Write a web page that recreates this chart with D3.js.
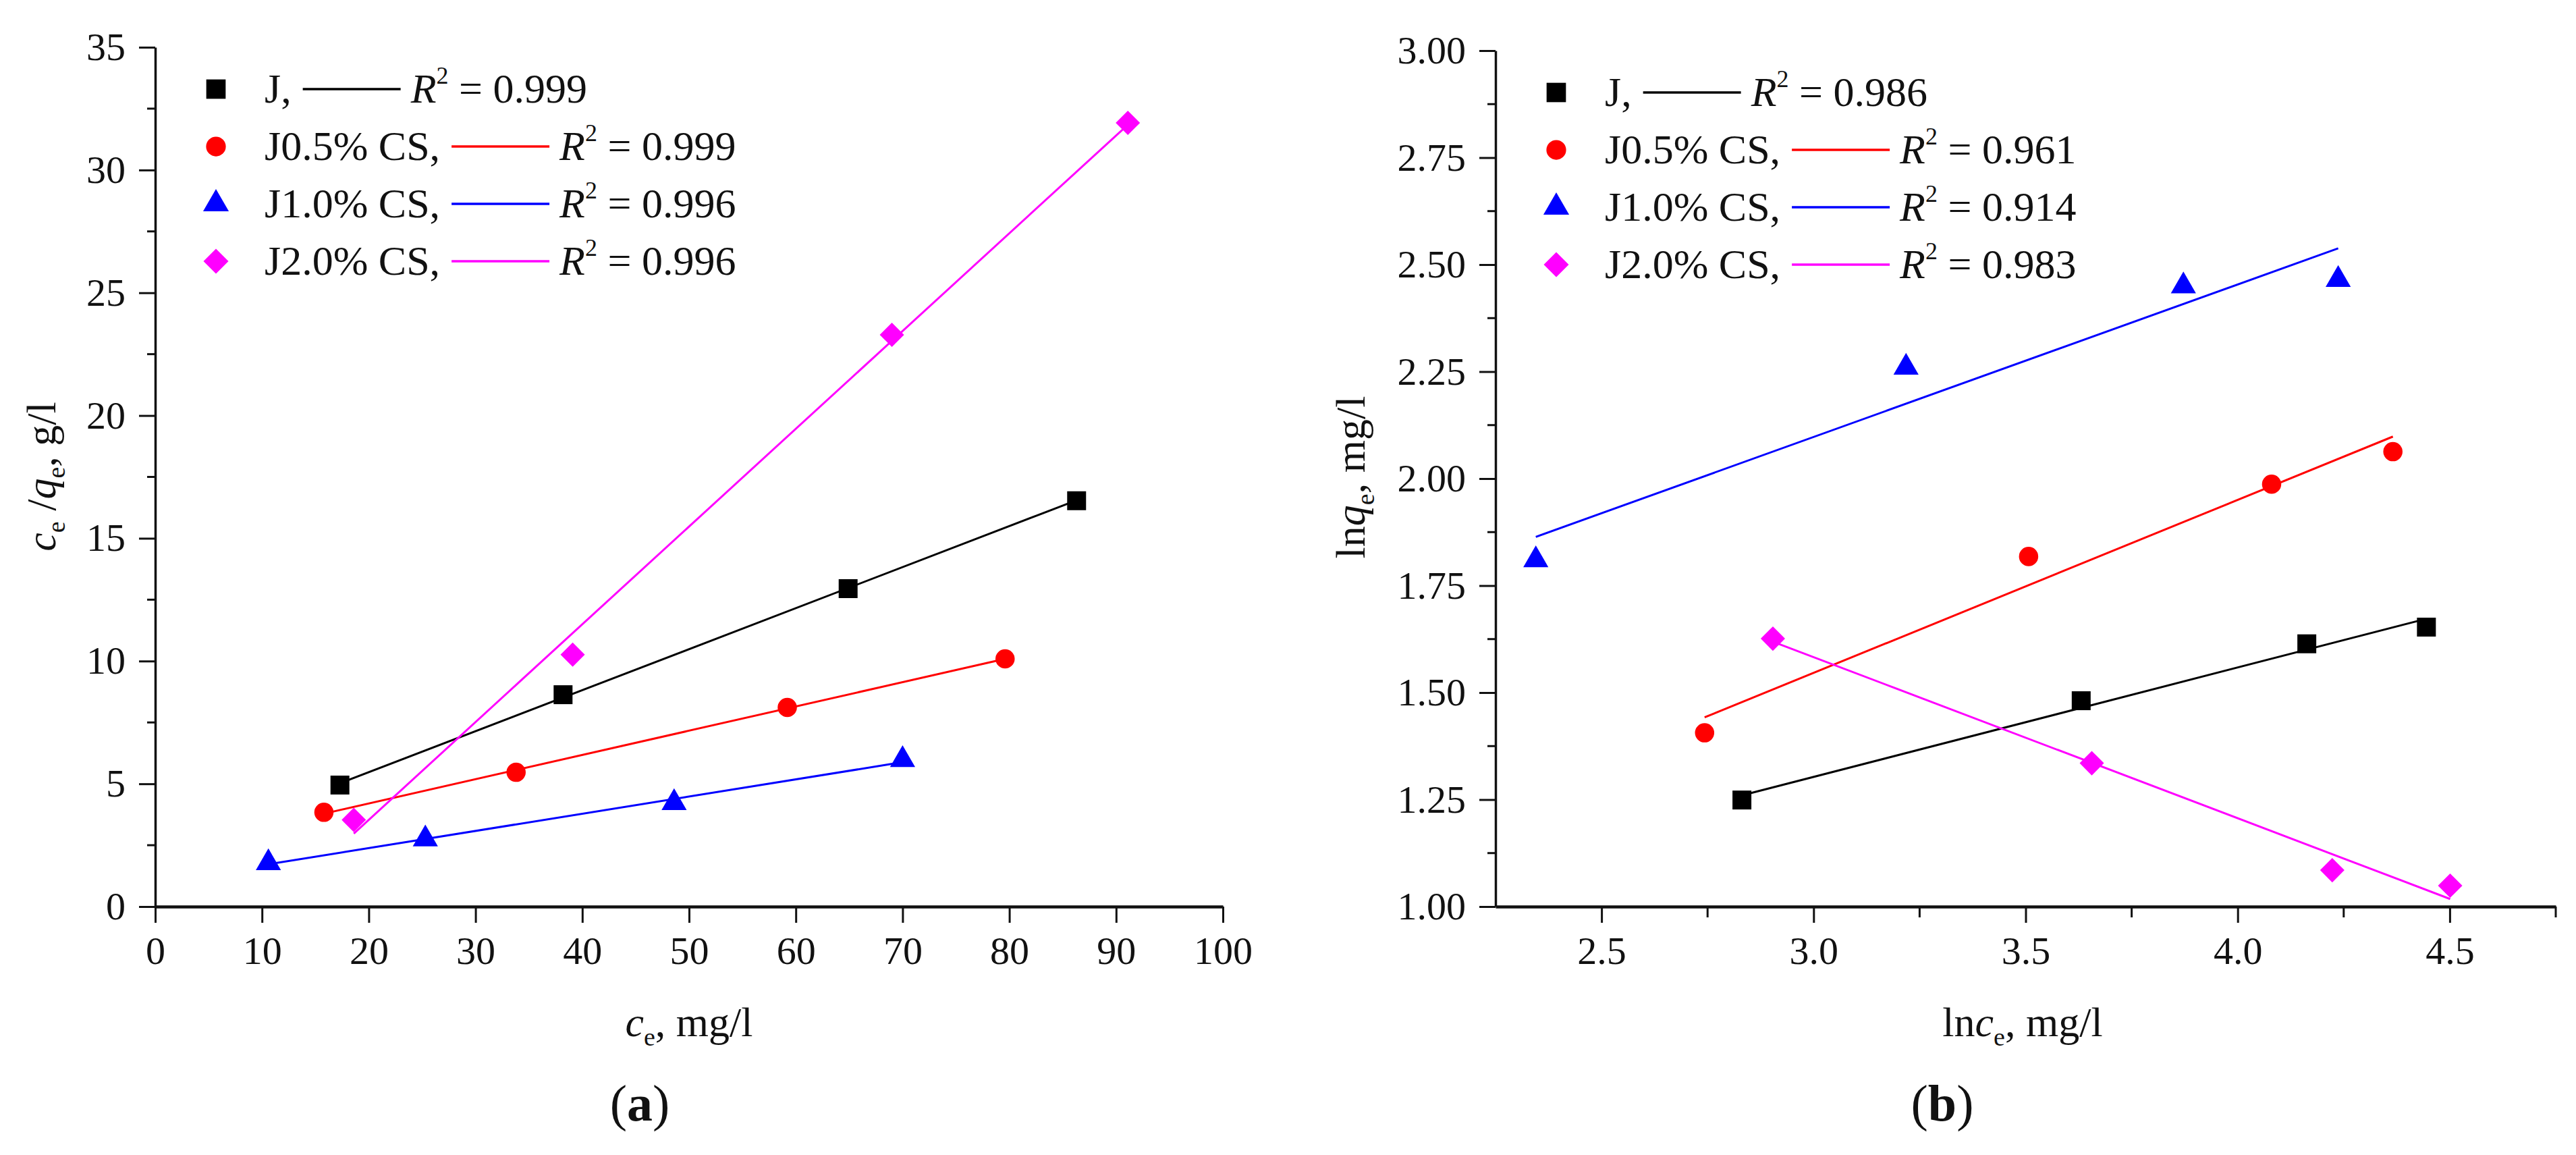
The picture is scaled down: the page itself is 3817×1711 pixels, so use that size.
<!DOCTYPE html>
<html>
<head>
<meta charset="utf-8">
<script src="https://cdn.jsdelivr.net/npm/d3@7"></script>
<style>
  html, body { margin: 0; padding: 0; background: #ffffff; }
  svg { display: block; }
  text { font-family: "Liberation Serif", "Times New Roman", serif; fill: #111; }
</style>
</head>
<body>
<svg id="chart" width="3817" height="1711"></svg>
<script>
// ---------------- DATA ----------------
const seriesNames = ["J,", "J0.5% CS,", "J1.0% CS,", "J2.0% CS,"];
const seriesColors = ["#000000", "#ff0000", "#0000ff", "#ff00ff"];

// Panel (a): ce (mg/l) vs ce/qe (g/l)
const ceA_J   = [17.3, 38.2, 64.9, 86.3];
const yA_J    = [4.95, 8.63, 12.95, 16.53];
const ceA_05  = [15.8, 33.8, 59.2, 79.6];
const yA_05   = [3.84, 5.47, 8.11, 10.09];
const ceA_10  = [10.6, 25.3, 48.6, 70.0];
const yA_10   = [1.78, 2.75, 4.23, 5.98];
const ceA_20  = [18.6, 39.1, 69.0, 91.1];
const yA_20   = [3.53, 10.26, 23.29, 31.92];
const r2A     = ["0.999", "0.999", "0.996", "0.996"];

// Panel (b): ln ce vs ln qe
const lnceB_J  = [2.831, 3.631, 4.163, 4.445];
const lnqB_J   = [1.249, 1.481, 1.614, 1.653];
const lnceB_05 = [2.743, 3.507, 4.080, 4.366];
const lnqB_05  = [1.406, 1.818, 1.987, 2.063];
const lnceB_10 = [2.345, 3.218, 3.872, 4.237];
const lnqB_10  = [1.810, 2.260, 2.450, 2.465];
const lnceB_20 = [2.904, 3.656, 4.223, 4.501];
const lnqB_20  = [1.626, 1.335, 1.085, 1.049];
const r2B      = ["0.986", "0.961", "0.914", "0.983"];

// Tick values
const xTicksA = [0, 10, 20, 30, 40, 50, 60, 70, 80, 90, 100];
const yTicksA = [0, 5, 10, 15, 20, 25, 30, 35];
const yMinorA = [2.5, 7.5, 12.5, 17.5, 22.5, 27.5, 32.5];
const xTicksB = [2.5, 3.0, 3.5, 4.0, 4.5];
const xMinorB = [2.25, 2.75, 3.25, 3.75, 4.25, 4.75];
const yTicksB = [1.00, 1.25, 1.50, 1.75, 2.00, 2.25, 2.50, 2.75, 3.00];
const yMinorB = [1.125, 1.375, 1.625, 1.875, 2.125, 2.375, 2.625, 2.875];

// ---------------- HELPERS ----------------
const svg = d3.select("#chart");
svg.append("rect").attr("width", 3817).attr("height", 1711).attr("fill", "#fff");

const squareSym = { draw(ctx, size) { const s = Math.sqrt(size) / 2; ctx.moveTo(-s, -s); ctx.lineTo(s, -s); ctx.lineTo(s, s); ctx.lineTo(-s, s); ctx.closePath(); } };
const diamondSym = { draw(ctx, size) { const s = Math.sqrt(size) / 2; ctx.moveTo(0, -s); ctx.lineTo(s, 0); ctx.lineTo(0, s); ctx.lineTo(-s, 0); ctx.closePath(); } };
const symbolTypes = [squareSym, d3.symbolCircle, d3.symbolTriangle, diamondSym];
const symbolSizes = [784, 640, 600, 1300];

function linfit(xs, ys) {
  const mx = d3.mean(xs), my = d3.mean(ys);
  let sxy = 0, sxx = 0;
  xs.forEach((x, i) => { sxy += (x - mx) * (ys[i] - my); sxx += (x - mx) * (x - mx); });
  const b = sxy / sxx, a = my - b * mx;
  return x => a + b * x;
}

function drawPanel(cfg) {
  const g = svg.append("g");
  const x = d3.scaleLinear().domain(cfg.xDomain).range(cfg.xRange);
  const y = d3.scaleLinear().domain(cfg.yDomain).range(cfg.yRange);
  const x0 = cfg.xRange[0], yb = cfg.yRange[0];

  // fit lines
  cfg.series.forEach((s, i) => {
    const f = linfit(s.x, s.y);
    const xmin = d3.min(s.x), xmax = d3.max(s.x);
    g.append("line")
      .attr("x1", x(xmin)).attr("y1", y(f(xmin)))
      .attr("x2", x(xmax)).attr("y2", y(f(xmax)))
      .attr("stroke", seriesColors[i]).attr("stroke-width", 3);
  });
  // markers
  cfg.series.forEach((s, i) => {
    g.selectAll(null).data(s.x.map((v, k) => [v, s.y[k]])).enter()
      .append("path")
      .attr("transform", d => `translate(${x(d[0])},${y(d[1])})`)
      .attr("d", d3.symbol().type(symbolTypes[i]).size(symbolSizes[i]))
      .attr("fill", seriesColors[i]);
  });

  // axes
  const xAxis = d3.axisBottom(x).tickValues(cfg.xTicks).tickFormat(cfg.xFmt)
    .tickSize(24).tickSizeOuter(0).tickPadding(20);
  const gx = g.append("g").attr("transform", `translate(0,${yb})`).call(xAxis);
  const yAxis = d3.axisLeft(y).tickValues(cfg.yTicks).tickFormat(cfg.yFmt)
    .tickSize(24).tickSizeOuter(0).tickPadding(20);
  const gy = g.append("g").attr("transform", `translate(${x0},0)`).call(yAxis);
  [gx, gy].forEach(a => {
    a.selectAll("text").attr("font-size", 58).attr("font-family", "Liberation Serif").attr("fill", "#111");
    a.selectAll("line").attr("stroke", "#111").attr("stroke-width", 3);
  });
  gx.select(".domain").attr("stroke", "#111").attr("stroke-width", 4.5);
  gy.select(".domain").attr("stroke", "#111").attr("stroke-width", 3.5);
  // minor ticks
  if (cfg.xMinor) {
    g.append("g").selectAll("line").data(cfg.xMinor).enter().append("line")
      .attr("x1", d => x(d)).attr("x2", d => x(d)).attr("y1", yb).attr("y2", yb + 16)
      .attr("stroke", "#111").attr("stroke-width", 3);
  }
  if (cfg.yMinor) {
    g.append("g").selectAll("line").data(cfg.yMinor).enter().append("line")
      .attr("x1", x0).attr("x2", x0 - 12).attr("y1", d => y(d)).attr("y2", d => y(d))
      .attr("stroke", "#111").attr("stroke-width", 3);
  }

  // legend
  const lg = g.append("g");
  const top = cfg.yRange[1];
  cfg.series.forEach((s, i) => {
    const cy = top + 62 + i * 85;
    const mx = x0 + 90;
    lg.append("path").attr("transform", `translate(${mx},${cy})`)
      .attr("d", d3.symbol().type(symbolTypes[i]).size(symbolSizes[i] * 1.05))
      .attr("fill", seriesColors[i]);
    const t = lg.append("text").attr("x", mx + 72).attr("y", cy + 20)
      .attr("font-size", 62).text(seriesNames[i]);
    const end = mx + 72 + t.node().getComputedTextLength();
    const l1 = end + 17, l2 = l1 + 145;
    lg.append("line").attr("x1", l1).attr("x2", l2).attr("y1", cy).attr("y2", cy)
      .attr("stroke", seriesColors[i]).attr("stroke-width", 3.5);
    const rt = lg.append("text").attr("x", l2 + 15).attr("y", cy + 20).attr("font-size", 62);
    rt.append("tspan").attr("font-style", "italic").text("R");
    rt.append("tspan").attr("font-size", 36).attr("dy", -28).text("2");
    rt.append("tspan").attr("dy", 28).text(" = " + cfg.r2[i]);
  });

  // axis titles
  const xt = g.append("text").attr("x", cfg.xTitleX).attr("y", 1535)
    .attr("text-anchor", "middle").attr("font-size", 62);
  cfg.xTitle(xt);
  const yt = g.append("text")
    .attr("transform", `translate(${cfg.yTitleX},${cfg.yTitleY}) rotate(-90)`)
    .attr("text-anchor", "middle").attr("font-size", 62);
  cfg.yTitle(yt);

  // panel label
  const pl = g.append("text").attr("x", cfg.labelX).attr("y", 1660)
    .attr("text-anchor", "middle").attr("font-size", 76);
  pl.append("tspan").text("(");
  pl.append("tspan").attr("font-weight", "bold").text(cfg.label);
  pl.append("tspan").text(")");
}

function sub(t, main, s, italicMain) {
  t.append("tspan").attr("font-style", italicMain ? "italic" : "normal").text(main);
  t.append("tspan").attr("font-size", 38).attr("dy", 14).text(s);
}

drawPanel({
  xDomain: [0, 100], xRange: [230, 1812],
  yDomain: [0, 35], yRange: [1343, 70],
  xTicks: xTicksA, yTicks: yTicksA, yMinor: yMinorA,
  xFmt: d3.format("d"), yFmt: d3.format("d"),
  series: [
    { x: ceA_J, y: yA_J }, { x: ceA_05, y: yA_05 },
    { x: ceA_10, y: yA_10 }, { x: ceA_20, y: yA_20 }
  ],
  r2: r2A,
  xTitleX: 1021,
  xTitle: t => {
    sub(t, "c", "e", true);
    t.append("tspan").attr("dy", -14).text(", mg/l");
  },
  yTitleX: 82, yTitleY: 706,
  yTitle: t => {
    sub(t, "c", "e", true);
    t.append("tspan").attr("dy", -14).text(" /");
    sub(t, "q", "e", true);
    t.append("tspan").attr("dy", -14).text(", g/l");
  },
  labelX: 948, label: "a"
});

drawPanel({
  xDomain: [2.25, 4.75], xRange: [2216, 3787],
  yDomain: [1.0, 3.0], yRange: [1343, 75],
  xTicks: xTicksB, xMinor: xMinorB.filter(v => v > 2.25), yTicks: yTicksB, yMinor: yMinorB,
  xFmt: d3.format(".1f"), yFmt: d3.format(".2f"),
  series: [
    { x: lnceB_J, y: lnqB_J }, { x: lnceB_05, y: lnqB_05 },
    { x: lnceB_10, y: lnqB_10 }, { x: lnceB_20, y: lnqB_20 }
  ],
  r2: r2B,
  xTitleX: 2997,
  xTitle: t => {
    t.append("tspan").text("ln");
    sub(t, "c", "e", true);
    t.append("tspan").attr("dy", -14).text(", mg/l");
  },
  yTitleX: 2022, yTitleY: 707,
  yTitle: t => {
    t.append("tspan").text("ln");
    sub(t, "q", "e", true);
    t.append("tspan").attr("dy", -14).text(", mg/l");
  },
  labelX: 2878, label: "b"
});
</script>
</body>
</html>
